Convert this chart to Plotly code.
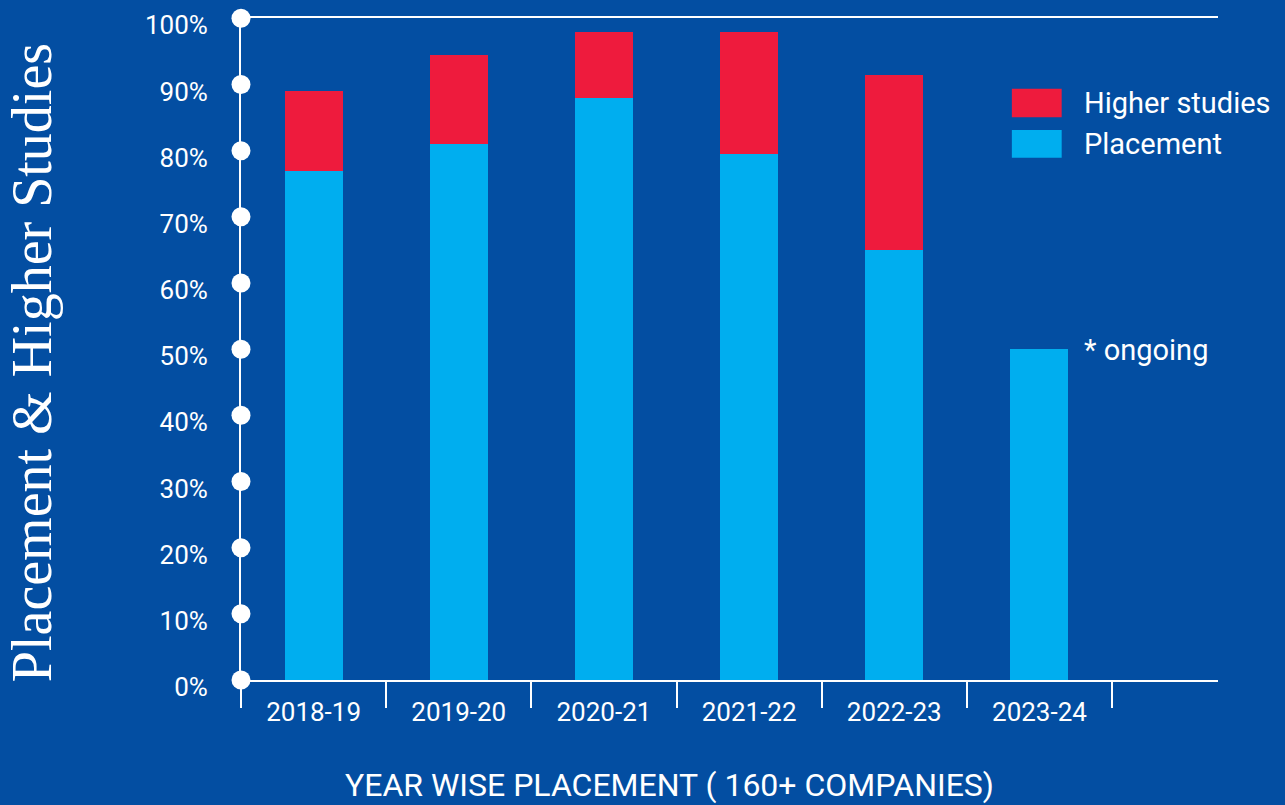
import plotly.graph_objects as go

years = ["2018-19", "2019-20", "2020-21", "2021-22", "2022-23", "2023-24"]
placement = [77, 81, 88, 79.5, 65, 50]
higher_studies = [12, 13.5, 10, 18.5, 26.5, 0]
y_ticks = [0, 10, 20, 30, 40, 50, 60, 70, 80, 90, 100]
y_tick_labels = [f"{v}%" for v in y_ticks]

BG = "#034EA2"
BLUE = "#00AEEF"
RED = "#EE1B3D"
WHITE = "#FFFFFF"
FONT = "Roboto"

fig = go.Figure()
fig.add_trace(go.Bar(x=years, y=placement, name="Placement", marker_color=BLUE,
                     marker_line_width=0, width=0.4, showlegend=False))
fig.add_trace(go.Bar(x=years, y=higher_studies, name="Higher studies", marker_color=RED,
                     marker_line_width=0, width=0.4, showlegend=False))
# white dots on the y axis at each tick (overlay axis x2: 0 = left edge of plot)
fig.add_trace(go.Scatter(x=[0] * len(y_ticks), y=y_ticks, xaxis="x2", yaxis="y", mode="markers",
                         marker=dict(color=WHITE, size=19, line=dict(width=0)),
                         cliponaxis=False, hoverinfo="skip", showlegend=False))

shapes = [
    dict(type="rect", xref="paper", yref="paper", x0=0.789, x1=0.840, y0=0.850, y1=0.893,
         fillcolor=RED, line=dict(width=0)),
    dict(type="rect", xref="paper", yref="paper", x0=0.789, x1=0.840, y0=0.789, y1=0.831,
         fillcolor=BLUE, line=dict(width=0)),
]

annotations = [
    dict(text="Higher studies", xref="paper", yref="paper", x=0.861, y=0.872, xanchor="left",
         yanchor="middle", showarrow=False, font=dict(family=FONT, size=29, color=WHITE)),
    dict(text="Placement", xref="paper", yref="paper", x=0.861, y=0.810, xanchor="left",
         yanchor="middle", showarrow=False, font=dict(family=FONT, size=29, color=WHITE)),
    dict(text="* ongoing", xref="paper", yref="paper", x=0.861, y=0.498, xanchor="left",
         yanchor="middle", showarrow=False, font=dict(family=FONT, size=29, color=WHITE)),
    dict(text="Placement &amp; Higher Studies", xref="paper", yref="paper", x=-0.214, y=0.48,
         xanchor="center", yanchor="middle", textangle=-90, showarrow=False,
         font=dict(family="Liberation Serif, serif", size=56, color=WHITE)),
    dict(text="YEAR WISE PLACEMENT ( 160+ COMPANIES)", xref="paper", yref="paper", x=0.439, y=-0.159,
         xanchor="center", yanchor="middle", showarrow=False,
         font=dict(family=FONT, size=32, color=WHITE)),
]

fig.update_layout(
    width=1285, height=805,
    barmode="stack",
    paper_bgcolor=BG, plot_bgcolor=BG,
    margin=dict(l=241, r=67, t=18, b=125, autoexpand=False),
    shapes=shapes, annotations=annotations,
    xaxis=dict(type="category", range=[-0.5, 6.23], showgrid=False, zeroline=False,
               showline=True, linecolor=WHITE, linewidth=2, mirror=True, automargin=False,
               ticks="outside", tickson="boundaries", ticklen=26, tickwidth=1.5, tickcolor=WHITE,
               ticklabelstandoff=8,
               tickfont=dict(family=FONT, size=26, color=WHITE), fixedrange=True),
    xaxis2=dict(overlaying="x", range=[0, 1], visible=False, fixedrange=True),
    yaxis=dict(range=[0, 100.05], tickvals=y_ticks, ticktext=y_tick_labels, showgrid=False,
               zeroline=False, showline=True, linecolor=WHITE, linewidth=2, ticks="",
               automargin=False, ticklabelstandoff=26, ticklabelshift=7, ticklabeloverflow="allow",
               tickfont=dict(family=FONT, size=26, color=WHITE), fixedrange=True),
)

fig.write_html("out.html", config={"displayModeBar": False},
               post_script="document.body.style.margin='0';")
